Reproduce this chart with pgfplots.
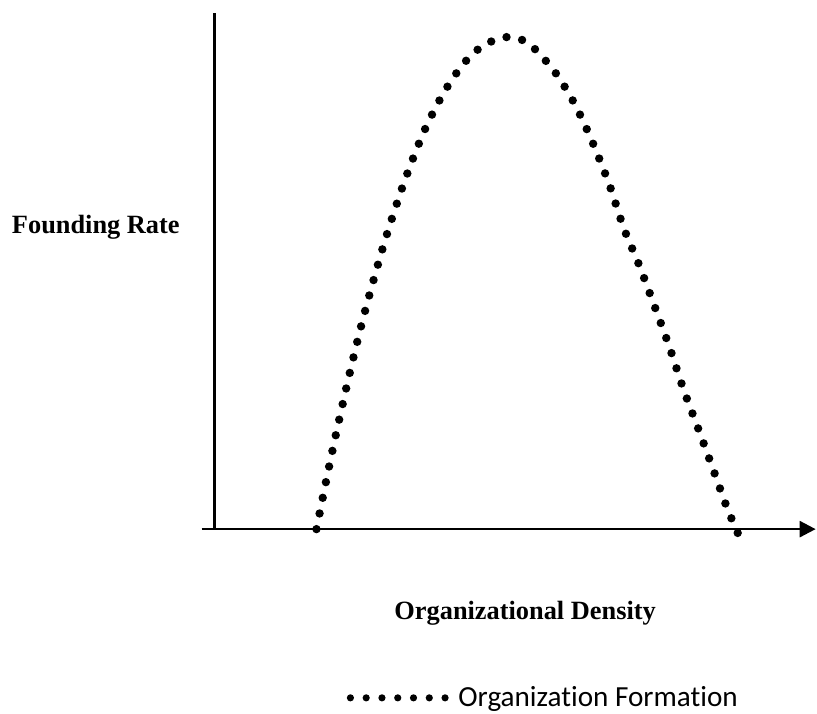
\documentclass[border=0pt]{standalone}
\usepackage{fontspec}
\setmainfont{Liberation Serif}
\newfontfamily\calibri[Ligatures=NoCommon]{Carlito}
\usepackage{pgfplots}
\pgfplotsset{compat=1.18}
\usetikzlibrary{arrows.meta}

% 1 px of the reference = 0.5pt
\tikzset{
  dotline/.style={black, line width=4.2pt, line cap=round, dash pattern=on 0pt off 8pt},
  legdots/.style={black, line width=3.6pt, line cap=round, dash pattern=on 0pt off 7.9pt},
}

\begin{document}
\begin{tikzpicture}
\begin{axis}[
  scale only axis,
  width=301pt, height=258.5pt,
  xmin=0, xmax=602, ymin=0, ymax=517,
  hide axis,
  clip=false,
  legend style={draw=none, fill=none, at={(axis cs:132,-169)}, anchor=west,
    font=\calibri\fontsize{14.6}{17}\selectfont, inner sep=0pt},
  legend image code/.code={\draw[legdots] (0pt,0pt) -- (48pt,0pt); \path (50pt,0pt);},
]
% bounding frame of the reference picture
\path (axis cs:-215,-177) rectangle (axis cs:602,530);

% axes
\draw[line width=1.35pt] (axis cs:0,0) -- (axis cs:0,517);
\draw[line width=1.35pt, -{Triangle[length=8pt,width=8pt]}] (axis cs:-13,0) -- (axis cs:602,0);

\addplot[dotline, smooth, tension=0.5] coordinates {
  (102,0) (110,40) (120,88) (135,155) (150,216) (170,287) (190,348)
  (210,399) (230,438) (250,467) (270,485) (294,493)
  (315,486) (340,459) (360,427) (377,391) (395,346) (410,301)
  (425,265) (440,225) (455,184) (470,139) (485,99) (500,58)
  (513,22) (524,-4)
};
\addlegendentry{Organization Formation}

\node[font=\bfseries\fontsize{13.2}{15}\selectfont] at (axis cs:-119,302) {Founding Rate};
\node[font=\bfseries\fontsize{13.2}{15}\selectfont] at (axis cs:311,-84) {Organizational Density};
\end{axis}
\end{tikzpicture}
\end{document}
